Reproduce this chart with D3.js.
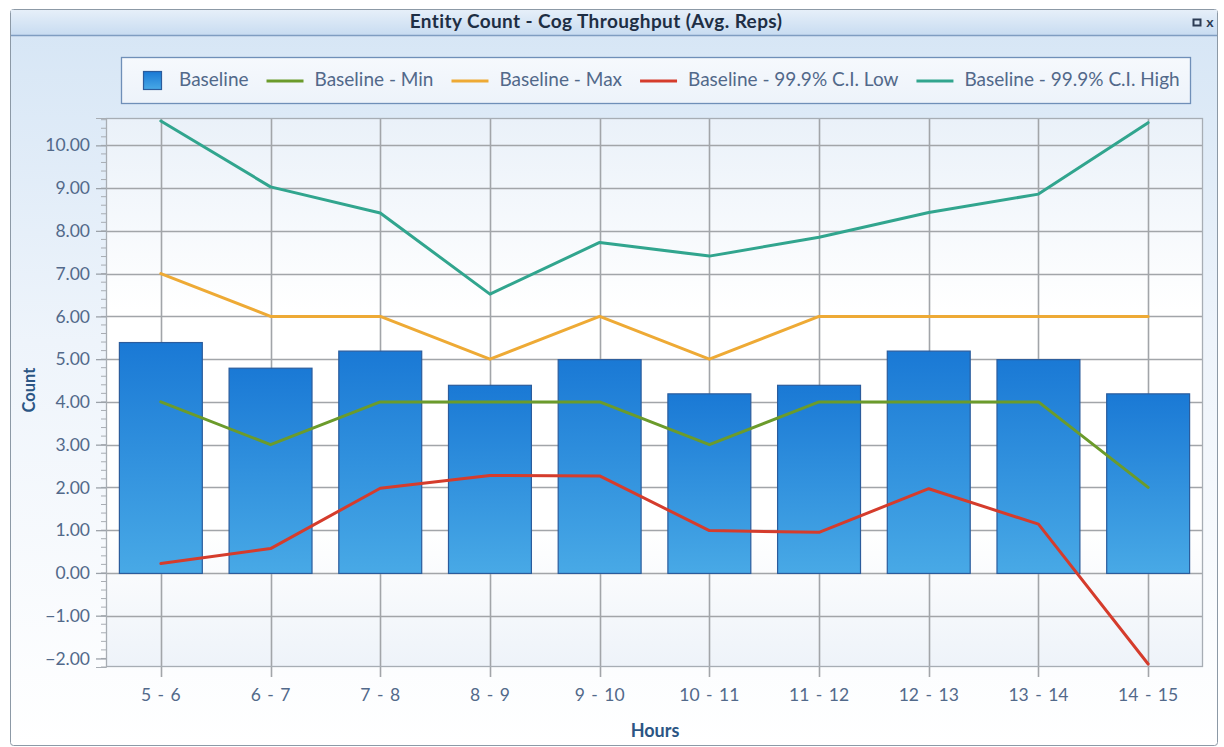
<!DOCTYPE html>
<html>
<head>
<meta charset="utf-8">
<script src="https://cdn.jsdelivr.net/npm/d3@7"></script>
<style>
html,body{margin:0;padding:0;background:#fff;}
svg{display:block;}
</style>
</head>
<body>
<svg id="chart" width="1224" height="747"></svg>
<script>
const categories = ["5 - 6","6 - 7","7 - 8","8 - 9","9 - 10","10 - 11","11 - 12","12 - 13","13 - 14","14 - 15"];
const baseline = [5.4, 4.8, 5.2, 4.4, 5.0, 4.2, 4.4, 5.2, 5.0, 4.2];
const baselineMin = [4, 3, 4, 4, 4, 3, 4, 4, 4, 2];
const baselineMax = [7, 6, 6, 5, 6, 5, 6, 6, 6, 6];
const ciLow = [0.22, 0.57, 1.98, 2.28, 2.27, 0.99, 0.95, 1.97, 1.14, -2.13];
const ciHigh = [10.57, 9.03, 8.42, 6.52, 7.73, 7.41, 7.85, 8.43, 8.86, 10.53];
const yTicks = [-2, -1, 0, 1, 2, 3, 4, 5, 6, 7, 8, 9, 10];
const seriesNames = ["Baseline", "Baseline - Min", "Baseline - Max", "Baseline - 99.9% C.I. Low", "Baseline - 99.9% C.I. High"];
const seriesColors = ["#1f80d8", "#6b9b2b", "#eeaa35", "#d53c2c", "#31a58e"];
const title = "Entity Count - Cog Throughput (Avg. Reps)";

const svg = d3.select("#chart");
const FONT = "Lato, 'Open Sans', sans-serif";
const defs = svg.append("defs");

function lin(id, stops){
  const g = defs.append("linearGradient").attr("id", id)
    .attr("x1",0).attr("y1",0).attr("x2",0).attr("y2",1);
  stops.forEach(s => g.append("stop").attr("offset", s[0]).attr("stop-color", s[1]));
}
lin("bodyGrad", [[0,"#d5e5f5"],[0.45,"#eef4fb"],[1,"#ffffff"]]);
lin("titleGrad", [[0,"#e6eff9"],[1,"#c8dcf1"]]);
lin("plotGrad", [[0,"#eaf1f9"],[0.35,"#ffffff"],[0.75,"#ffffff"],[1,"#eef3f9"]]);
lin("barGrad", [[0,"#1a79d5"],[1,"#48a9e6"]]);
lin("legendGrad", [[0,"#f6f9fd"],[1,"#edf3fa"]]);

// window frame
svg.append("rect").attr("x",10.5).attr("y",9.5).attr("width",1207).attr("height",736)
  .attr("rx",3).attr("fill","url(#bodyGrad)").attr("stroke","#8c99a6");
svg.append("rect").attr("x",11).attr("y",10).attr("width",1206).attr("height",25)
  .attr("fill","url(#titleGrad)");
svg.append("line").attr("x1",11).attr("x2",1217).attr("y1",35.5).attr("y2",35.5)
  .attr("stroke","#7f9dc1").attr("stroke-width",1.5);
svg.append("text").attr("x",596).attr("y",23).attr("text-anchor","middle")
  .attr("dominant-baseline","middle")
  .attr("font-family",FONT).attr("font-weight","bold").attr("font-size",19).attr("letter-spacing",0.4)
  .attr("fill","#1e2e44").text(title);
// window buttons
svg.append("rect").attr("x",1193.5).attr("y",19.5).attr("width",7).attr("height",6)
  .attr("fill","none").attr("stroke","#2c3c55").attr("stroke-width",2);
svg.append("text").attr("x",1210).attr("y",23).attr("text-anchor","middle")
  .attr("dominant-baseline","middle").attr("font-family",FONT).attr("font-weight","bold")
  .attr("font-size",14).attr("fill","#2c3c55").text("x");

// plot geometry
const plotL = 106, plotR = 1203, plotT = 118, plotB = 667;
const x = d3.scaleBand().domain(categories).range([plotL, plotR]).paddingInner(0.235).paddingOuter(0.1175);
const xc = d => x(d) + x.bandwidth()/2;
const y = d3.scaleLinear().domain([-2.2, 10.64]).range([plotB, plotT]);

svg.append("rect").attr("x",plotL).attr("y",plotT).attr("width",plotR-plotL).attr("height",plotB-plotT)
  .attr("fill","url(#plotGrad)");

// gridlines
const grid = svg.append("g");
grid.selectAll("line.h").data(yTicks.filter(v => v > -2)).join("line")
  .attr("x1",plotL).attr("x2",plotR).attr("y1",d=>Math.round(y(d))+0.5).attr("y2",d=>Math.round(y(d))+0.5)
  .attr("stroke","#a2a5a9").attr("stroke-width",1.6);
grid.selectAll("line.v").data(categories).join("line")
  .attr("x1",d=>Math.round(xc(d))+0.5).attr("x2",d=>Math.round(xc(d))+0.5).attr("y1",plotT).attr("y2",plotB+10)
  .attr("stroke","#a2a5a9").attr("stroke-width",1.6);

// plot border
svg.append("rect").attr("x",plotL+0.5).attr("y",plotT+0.5).attr("width",plotR-plotL-1).attr("height",plotB-plotT-1)
  .attr("fill","none").attr("stroke","#a7adb4").attr("stroke-width",1.3);

// y axis with minor ticks
const minor = d3.range(-2.2, 10.61, 0.2);
svg.append("g").selectAll("line").data(minor).join("line")
  .attr("x1",plotL-5).attr("x2",plotL).attr("y1",d=>y(d)).attr("y2",d=>y(d))
  .attr("stroke","#a8adb3").attr("stroke-width",1);
const yAxis = d3.axisLeft(y).tickValues(yTicks).tickFormat(d3.format(".2f")).tickSize(10).tickPadding(6);
const ya = svg.append("g").attr("transform",`translate(${plotL},0)`).call(yAxis);
ya.select(".domain").attr("stroke","#a8adb3");
ya.selectAll(".tick line").attr("stroke","#9ca2a9").attr("stroke-width",1.3);
ya.selectAll(".tick text").attr("font-family",FONT).attr("font-size",17.5).attr("fill","#52698a");

// x axis labels
svg.append("g").selectAll("text").data(categories).join("text")
  .attr("x",d=>xc(d)).attr("y",697).attr("text-anchor","middle").attr("dominant-baseline","middle")
  .attr("font-family",FONT).attr("font-size",17.5).attr("word-spacing",2).attr("fill","#52698a").text(d=>d);

// axis titles
svg.append("text").attr("x",655).attr("y",732).attr("text-anchor","middle").attr("dominant-baseline","middle")
  .attr("font-family",FONT).attr("font-weight","bold").attr("font-size",18).attr("fill","#2b5584").text("Hours");
svg.append("text").attr("transform","translate(31,390) rotate(-90)").attr("text-anchor","middle")
  .attr("dominant-baseline","middle")
  .attr("font-family",FONT).attr("font-weight","bold").attr("font-size",16.5).attr("fill","#2b5584").text("Count");

// bars
svg.append("g").selectAll("rect").data(categories).join("rect")
  .attr("x",d=>x(d)+0.5).attr("width",x.bandwidth()-1)
  .attr("y",(d,i)=>y(baseline[i])+0.5).attr("height",(d,i)=>y(0)-y(baseline[i]))
  .attr("fill","url(#barGrad)").attr("stroke","#2b5c9c").attr("stroke-width",1.2);

// lines
const lineGen = d3.line().x((v,i)=>xc(categories[i])).y(v=>y(v));
[[baselineMin,1],[baselineMax,2],[ciLow,3],[ciHigh,4]].forEach(([arr,k]) => {
  svg.append("path").datum(arr).attr("d",lineGen).attr("fill","none")
    .attr("stroke",seriesColors[k]).attr("stroke-width",3).attr("stroke-linejoin","round")
    .attr("stroke-linecap","round");
});

// legend
const lg = svg.append("g");
lg.append("rect").attr("x",121.5).attr("y",57.5).attr("width",1069).attr("height",46)
  .attr("fill","url(#legendGrad)").attr("stroke","#6f8fb8").attr("stroke-width",1.3);
let cx = 143;
const ly = 81;
seriesNames.forEach((name,i) => {
  if (i === 0) {
    lg.append("rect").attr("x",cx+0.5).attr("y",ly-9.5).attr("width",18).attr("height",18)
      .attr("fill","url(#barGrad)").attr("stroke","#2b5c9c").attr("stroke-width",1.2);
    cx += 36;
  } else {
    lg.append("line").attr("x1",cx).attr("x2",cx+37).attr("y1",ly).attr("y2",ly)
      .attr("stroke",seriesColors[i]).attr("stroke-width",3);
    cx += 48;
  }
  const t = lg.append("text").attr("x",cx).attr("y",ly).attr("dominant-baseline","middle")
    .attr("font-family",FONT).attr("font-size",19).attr("fill","#52698a").text(name);
  cx += t.node().getComputedTextLength() + 18;
});
</script>
</body>
</html>
